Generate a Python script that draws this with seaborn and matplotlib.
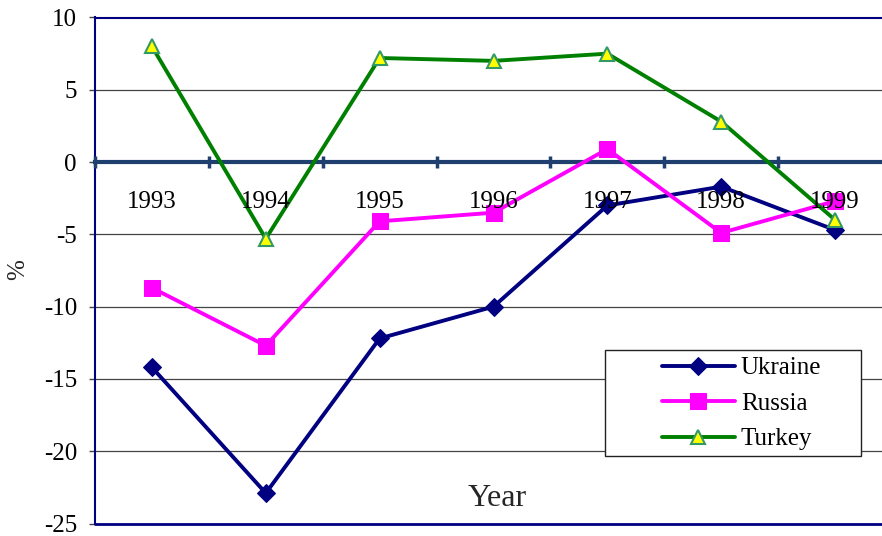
import matplotlib
matplotlib.use("Agg")
import matplotlib.pyplot as plt
import seaborn as sns
import pandas as pd
from matplotlib.ticker import FixedLocator
from matplotlib.patches import Rectangle

years = ["1993", "1994", "1995", "1996", "1997", "1998", "1999"]
ukraine = [-14.2, -22.9, -12.2, -10.0, -3.0, -1.7, -4.7]
russia = [-8.7, -12.7, -4.1, -3.5, 0.9, -4.9, -2.7]
turkey = [8.0, -5.3, 7.2, 7.0, 7.5, 2.8, -4.0]

sns.set_theme(style="white")
plt.rcParams['font.family'] = ['Liberation Serif', 'DejaVu Serif']

fig = plt.figure(figsize=(8.82, 5.36), dpi=100)
ax = fig.add_axes([95/882, 1-523.5/536, 797/882, (523.5-17.5)/536])

df = pd.DataFrame({"Year": years, "Ukraine": ukraine, "Russia": russia, "Turkey": turkey})

sns.lineplot(data=df, x="Year", y="Ukraine", ax=ax, color="#000080", lw=2.8,
             marker="D", markersize=9, markeredgecolor="#000080", label="Ukraine", sort=False)
sns.lineplot(data=df, x="Year", y="Russia", ax=ax, color="#FF00FF", lw=2.8,
             marker="s", markersize=12, markeredgecolor="#FF00FF", label="Russia", sort=False)
sns.lineplot(data=df, x="Year", y="Turkey", ax=ax, color="#008000", lw=2.8,
             marker="^", markersize=10, markerfacecolor="#FFFF00", markeredgecolor="#339966",
             markeredgewidth=1.5, label="Turkey", sort=False)

ax.set_xlim(-0.5, 6.5)
ax.set_ylim(-25, 10)
ax.set_yticks([10, 5, 0, -5, -10, -15, -20, -25])
ax.set_yticklabels(["10", "5", "0", "-5", "-10", "-15", "-20", "-25"])
for v in [5, -5, -10, -15, -20]:
    ax.axhline(v, color="#444444", lw=0.9, zorder=0.5)

# zero axis with category boundary ticks
ax.spines['bottom'].set_position(('data', 0))
ax.spines['bottom'].set_color("#1F3F6F")
ax.spines['bottom'].set_linewidth(3)
ax.spines['bottom'].set_zorder(1)
ax.xaxis.set_minor_locator(FixedLocator([i - 0.5 for i in range(8)]))
ax.tick_params(axis='x', which='minor', bottom=True, length=9, width=2.5, direction='inout',
               color="#1F3F6F")
ax.tick_params(axis='x', which='major', bottom=True, length=0, pad=21, labelsize=18,
               labelcolor="black")
ax.tick_params(axis='y', which='major', length=4, width=1, direction='out', color="#444444",
               left=True, labelsize=18, pad=9, labelcolor="black")
ax.xaxis.set_zorder(5)
ax.set_xlabel("")
ax.set_ylabel("")

for s in ['left', 'top']:
    ax.spines[s].set_color("#000080")
    ax.spines[s].set_linewidth(1.5)
ax.spines['right'].set_visible(False)
ax.axhline(-25, color="#000080", lw=2, clip_on=False)

fig.text(497/882, 1-498/536, "Year", ha='center', va='center', fontsize=23)
fig.text(18/882, 1-270/536, "%", ha='center', va='center', rotation=90, fontsize=18)

# legend frame
ax.add_patch(Rectangle((605/882, 1-456/536), 256/882, 106/536,
                       transform=fig.transFigure, facecolor="white",
                       edgecolor="#222222", lw=1, zorder=6, clip_on=False))
leg = ax.legend(loc='upper left', bbox_to_anchor=(662/882, 1-357/536),
                bbox_transform=fig.transFigure, frameon=False,
                fontsize=18, handlelength=2.9, borderpad=0, labelspacing=0.52,
                handletextpad=0.25, borderaxespad=0)
leg.set_zorder(7)
for t in leg.get_texts():
    t.set_color("black")

fig.savefig("out.png", dpi=100)
